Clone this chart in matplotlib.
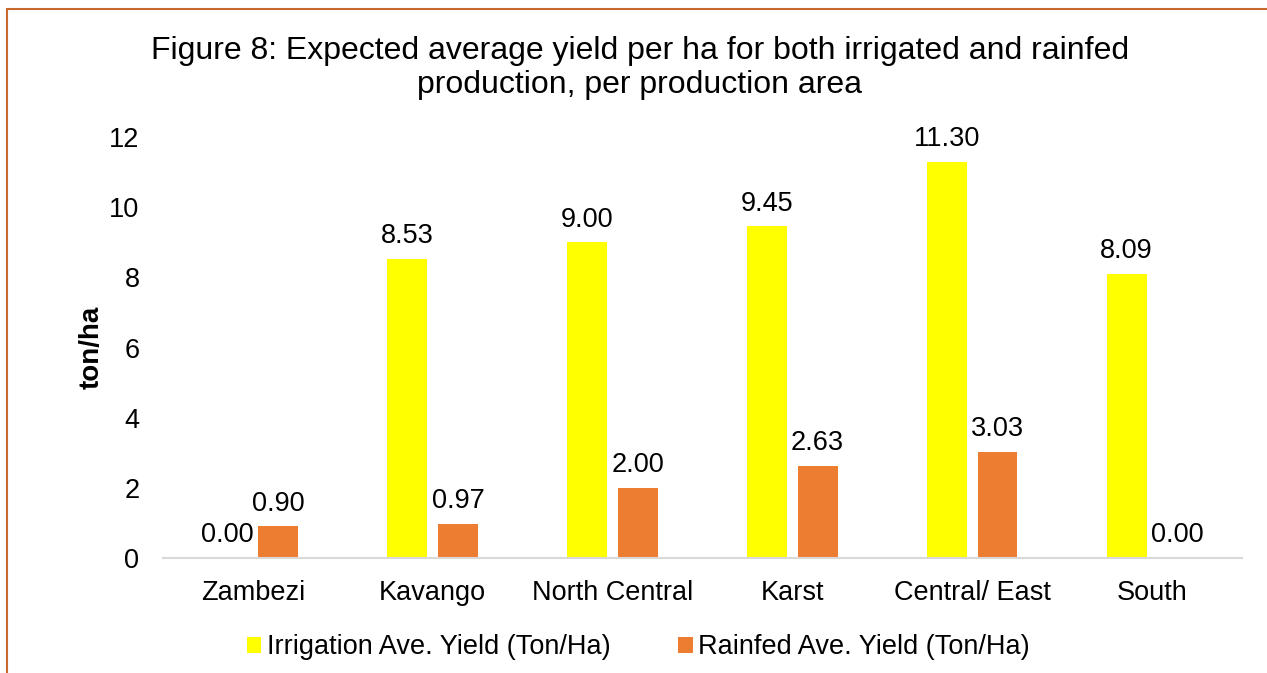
import matplotlib.pyplot as plt
import matplotlib.patches as mpatches
import numpy as np

plt.rcParams.update({'font.family': ['Liberation Sans', 'DejaVu Sans']})

regions = ['Zambezi', 'Kavango', 'North Central', 'Karst', 'Central/ East', 'South']
irrigation = [0.00, 8.53, 9.00, 9.45, 11.30, 8.09]
rainfed = [0.90, 0.97, 2.00, 2.63, 3.03, 0.00]
series_names = ['Irrigation Ave. Yield (Ton/Ha)', 'Rainfed Ave. Yield (Ton/Ha)']
yticks = [0, 2, 4, 6, 8, 10, 12]

fig = plt.figure(figsize=(12.67, 6.73), dpi=100)
ax = fig.add_axes([0.1287, 0.1709, 0.8516, 0.6255])

# outer orange frame (only left/top visible in the reference)
fig.patches.append(mpatches.Rectangle((7 / 1267, -0.1), 1.2, 1 - 9 / 673 + 0.1,
                                      transform=fig.transFigure, fill=False,
                                      edgecolor='#C9682C', linewidth=1.5))

x = np.arange(len(regions))
w = 0.222
b1 = ax.bar(x - 0.142, irrigation, w, color='#FFFF00', label=series_names[0])
b2 = ax.bar(x + 0.140, rainfed, w, color='#ED7D31', label=series_names[1])

for bars in (b1, b2):
    for r in bars:
        ax.annotate('%.2f' % r.get_height(), (r.get_x() + r.get_width() / 2, r.get_height()),
                    xytext=(0, 7), textcoords='offset points', ha='center', va='bottom',
                    fontsize=19.5)

ax.set_xlim(-0.5, len(regions) - 0.5)
ax.set_ylim(0, 12)
ax.set_yticks(yticks)
ax.set_xticks(x)
ax.set_xticklabels(regions)
ax.tick_params(axis='both', length=0, labelsize=19.5)
ax.tick_params(axis='x', pad=16)
ax.tick_params(axis='y', pad=17)
for s in ['top', 'right', 'left']:
    ax.spines[s].set_visible(False)
ax.spines['bottom'].set_color('#D9D9D9')
ax.spines['bottom'].set_linewidth(1.5)

ax.set_ylabel('ton/ha', fontsize=20, fontweight='bold', labelpad=3)

fig.text(0.505, 0.899, 'Figure 8: Expected average yield per ha for both irrigated and rainfed\nproduction, per production area',
         ha='center', va='center', fontsize=23, linespacing=1.18)

fig.legend(handles=[b1, b2], loc='center', bbox_to_anchor=(0.504, 0.038), ncol=2,
           frameon=False, prop={'size': 19.5}, handlelength=0.52, handleheight=0.55,
           handletextpad=0.22, columnspacing=2.5)

fig.savefig('out.png', dpi=100)
